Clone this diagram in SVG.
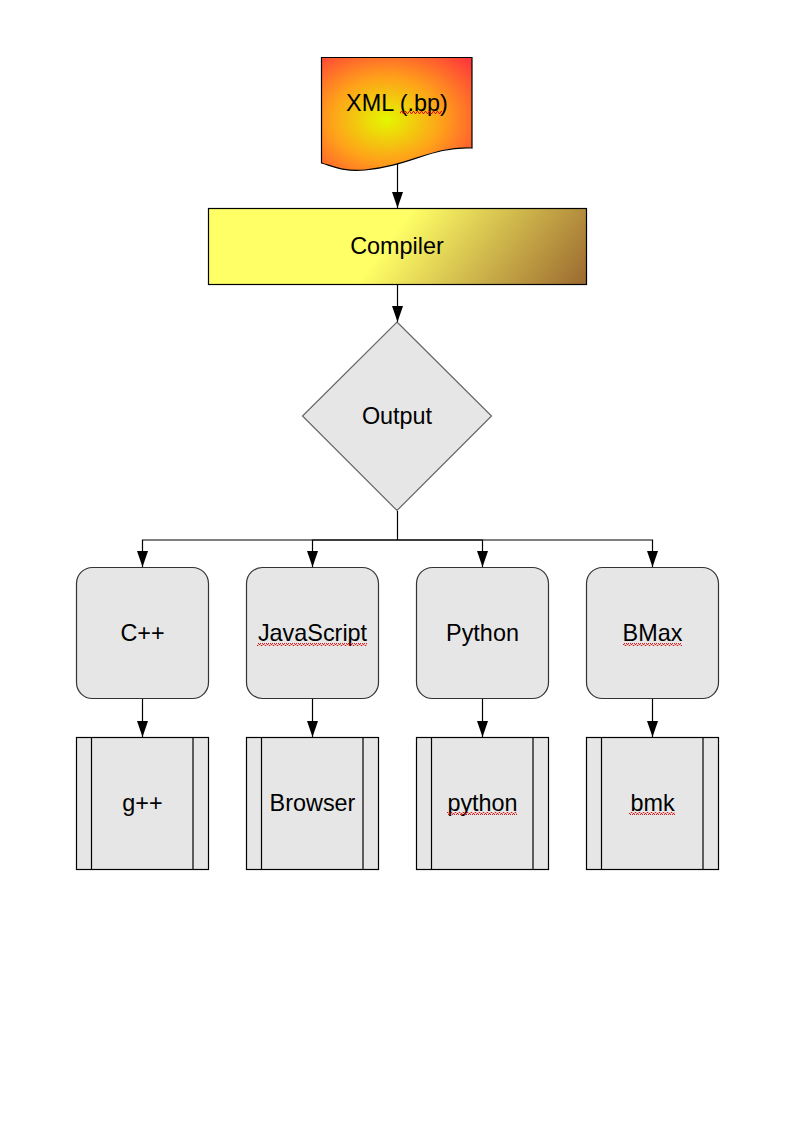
<svg xmlns="http://www.w3.org/2000/svg" width="794" height="1123" viewBox="0 0 794 1123">
<style>
  text { font-family: "Liberation Sans", Arial, sans-serif; font-size: 23.4px; fill: #000; text-anchor: middle; }
  .node { fill: #e6e6e6; stroke: #333; stroke-width: 1.2; }
  .proc { fill: #e6e6e6; stroke: #000; stroke-width: 1.2; }
  .bar { stroke: #000; stroke-width: 1.2; }
  .conn { fill: none; stroke: #000; stroke-width: 1.2; }
  .sq { fill: url(#squiggle); }
</style>
<defs>
  <radialGradient id="docGrad" cx="0.43" cy="0.55" r="0.75">
    <stop offset="0" stop-color="#e4f700"/>
    <stop offset="0.5" stop-color="#ffa01a"/>
    <stop offset="1" stop-color="#ff3a3a"/>
  </radialGradient>
  <linearGradient id="compGrad" gradientUnits="userSpaceOnUse" x1="385" y1="246" x2="533" y2="355">
    <stop offset="0" stop-color="#ffff66"/>
    <stop offset="1" stop-color="#9c6a30"/>
  </linearGradient>
  <pattern id="squiggle" patternUnits="userSpaceOnUse" width="4" height="3">
    <path d="M0,2.5 L1,0.5 L2,0.5 L3,2.5 L4,2.5" fill="none" stroke="#e00000" stroke-width="0.9"/>
  </pattern>
  <marker id="arrow" markerUnits="userSpaceOnUse" markerWidth="16" markerHeight="11" refX="16" refY="5.5" orient="auto">
    <path d="M0,0 L16,5.5 L0,11 Z" fill="#000"/>
  </marker>
</defs>
<rect width="794" height="1123" fill="#fff"/>

<g id="connectors">
  <line class="conn" x1="397.5" y1="163" x2="397.5" y2="208" marker-end="url(#arrow)"/>
  <line class="conn" x1="397.5" y1="284" x2="397.5" y2="322" marker-end="url(#arrow)"/>
  <polyline class="conn" points="397.5,511 397.5,540 142.5,540 142.5,567" marker-end="url(#arrow)"/>
  <polyline class="conn" points="397.5,540 312.5,540 312.5,567" marker-end="url(#arrow)"/>
  <polyline class="conn" points="397.5,540 482.5,540 482.5,567" marker-end="url(#arrow)"/>
  <polyline class="conn" points="397.5,540 652.5,540 652.5,567" marker-end="url(#arrow)"/>
  <line class="conn" x1="142.5" y1="699" x2="142.5" y2="737" marker-end="url(#arrow)"/>
  <line class="conn" x1="312.5" y1="699" x2="312.5" y2="737" marker-end="url(#arrow)"/>
  <line class="conn" x1="482.5" y1="699" x2="482.5" y2="737" marker-end="url(#arrow)"/>
  <line class="conn" x1="652.5" y1="699" x2="652.5" y2="737" marker-end="url(#arrow)"/>
</g>

<g id="xml">
  <path d="M321.5,57.5 H472 V148 C432,146 410,166 365,170 C345,172 335,167 321.5,163 Z" fill="url(#docGrad)" stroke="#000" stroke-width="1.2"/>
  <text x="397" y="111">XML (.bp)</text>
  <rect class="sq" x="400" y="111" width="42" height="3"/>
</g>

<g id="compiler">
  <rect x="208.5" y="208.5" width="378" height="76" fill="url(#compGrad)" stroke="#000" stroke-width="1.2"/>
  <text x="397" y="254">Compiler</text>
</g>

<g id="output">
  <polygon points="397,322 491.5,416 397,510.5 302.5,416" fill="#e6e6e6" stroke="#666" stroke-width="1.2"/>
  <text x="397" y="424">Output</text>
</g>

<g id="cpp">
  <rect class="node" x="76.5" y="567.5" width="132" height="131" rx="16" ry="16"/>
  <text x="142.5" y="641">C++</text>
</g>
<g id="javascript">
  <rect class="node" x="246.5" y="567.5" width="132" height="131" rx="16" ry="16"/>
  <text x="312.5" y="641">JavaScript</text>
  <rect class="sq" x="257" y="643" width="110" height="3"/>
</g>
<g id="python">
  <rect class="node" x="416.5" y="567.5" width="132" height="131" rx="16" ry="16"/>
  <text x="482.5" y="641">Python</text>
</g>
<g id="bmax">
  <rect class="node" x="586.5" y="567.5" width="132" height="131" rx="16" ry="16"/>
  <text x="652.5" y="641">BMax</text>
  <rect class="sq" x="623" y="643" width="59" height="3"/>
</g>

<g id="gpp">
  <rect class="proc" x="76.5" y="737.5" width="132" height="132"/>
  <line class="bar" x1="91.5" y1="737.5" x2="91.5" y2="869.5"/>
  <line class="bar" x1="193" y1="737.5" x2="193" y2="869.5"/>
  <text x="142.5" y="811">g++</text>
</g>
<g id="browser">
  <rect class="proc" x="246.5" y="737.5" width="132" height="132"/>
  <line class="bar" x1="261.5" y1="737.5" x2="261.5" y2="869.5"/>
  <line class="bar" x1="363" y1="737.5" x2="363" y2="869.5"/>
  <text x="312.5" y="811">Browser</text>
</g>
<g id="pythonexe">
  <rect class="proc" x="416.5" y="737.5" width="132" height="132"/>
  <line class="bar" x1="431.5" y1="737.5" x2="431.5" y2="869.5"/>
  <line class="bar" x1="533" y1="737.5" x2="533" y2="869.5"/>
  <text x="482.5" y="811">python</text>
  <rect class="sq" x="447" y="812" width="70" height="3"/>
</g>
<g id="bmk">
  <rect class="proc" x="586.5" y="737.5" width="132" height="132"/>
  <line class="bar" x1="601.5" y1="737.5" x2="601.5" y2="869.5"/>
  <line class="bar" x1="703" y1="737.5" x2="703" y2="869.5"/>
  <text x="652.5" y="811">bmk</text>
  <rect class="sq" x="629" y="812" width="46" height="3"/>
</g>
</svg>
